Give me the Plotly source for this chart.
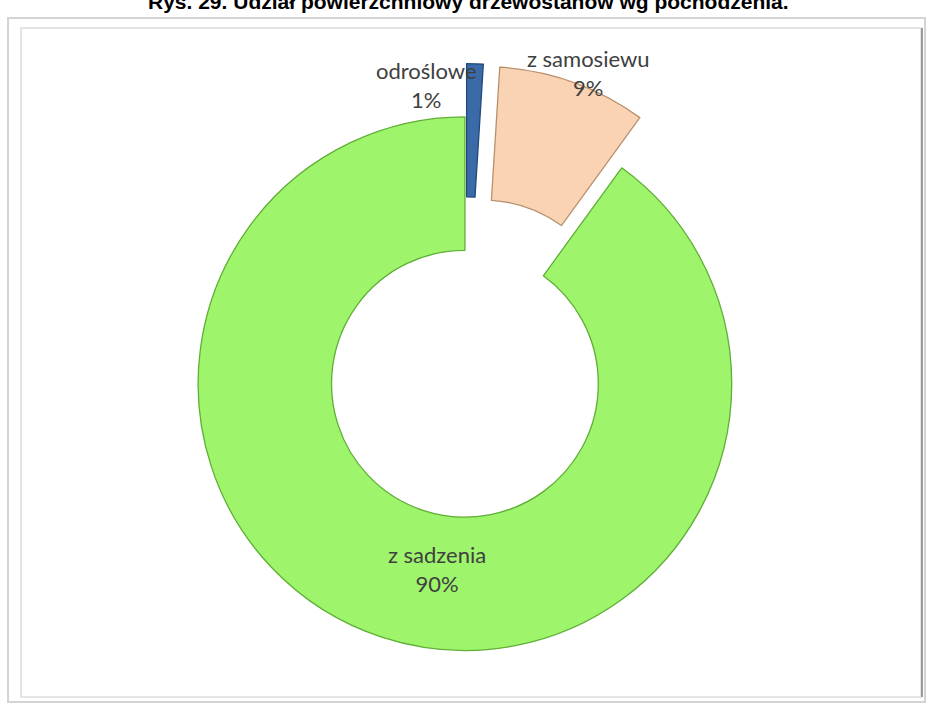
import plotly.graph_objects as go

# Data
categories = ["odroślowe", "z samosiewu", "z sadzenia"]
values = [1, 9, 90]
colors = ["#3A6AA8", "#FAD3B4", "#9EF56C"]
line_colors = ["#22497A", "#B8906C", "#5FAE35"]
pulls = [0.2, 0.2, 0.0]
title_text = "Rys. 29. Udział powierzchniowy drzewostanów wg pochodzenia."

W, H = 928, 704
def px(x):
    return x / W
def py(y):
    return 1 - y / H

fig = go.Figure()
fig.add_trace(go.Pie(
    labels=categories,
    values=values,
    sort=False,
    direction="clockwise",
    rotation=0,
    hole=0.5,
    pull=pulls,
    marker=dict(colors=colors, line=dict(color=line_colors, width=1.3)),
    textinfo="none",
    hoverinfo="label+percent",
    showlegend=False,
    domain=dict(x=[0.156, 0.846], y=[0.0, 0.91]),
))

# labels
total = sum(values)
label_pos = [(426, 85), (588, 73), (437, 569)]
for cat, val, (lx, ly) in zip(categories, values, label_pos):
    fig.add_annotation(
        x=px(lx), y=py(ly), xref="paper", yref="paper",
        text=f"{cat}<br>{round(val / total * 100)}%",
        showarrow=False, xanchor="center", yanchor="middle",
        font=dict(family="Lato, Open Sans, sans-serif", size=22, color="#404040"),
    )

# title (partially cut off at the top, as in the reference)
fig.add_annotation(
    x=px(468), y=py(2), xref="paper", yref="paper",
    text=f"<b>{title_text}</b>", showarrow=False,
    xanchor="center", yanchor="middle",
    font=dict(family="Liberation Sans, Arial, sans-serif", size=21, color="#000000"),
)

shapes = [
    dict(type="rect", xref="paper", yref="paper", x0=px(8), x1=px(925), y0=py(702), y1=py(18),
         line=dict(color="#D4D4D4", width=2), fillcolor="rgba(0,0,0,0)", layer="below"),
    dict(type="rect", xref="paper", yref="paper", x0=px(21), x1=px(921), y0=py(697), y1=py(28),
         line=dict(color="#DDDDDD", width=1.5), fillcolor="rgba(0,0,0,0)", layer="below"),
    dict(type="line", xref="paper", yref="paper", x0=px(922), x1=px(922), y0=py(697), y1=py(28),
         line=dict(color="#9A9A9A", width=2)),
]

fig.update_layout(
    width=W, height=H,
    margin=dict(l=0, r=0, t=0, b=0),
    paper_bgcolor="white",
    plot_bgcolor="white",
    shapes=shapes,
)

fig.write_html(
    "out.html",
    config={"displayModeBar": False},
    post_script="document.body.style.margin='0';document.body.style.overflow='hidden';",
)
